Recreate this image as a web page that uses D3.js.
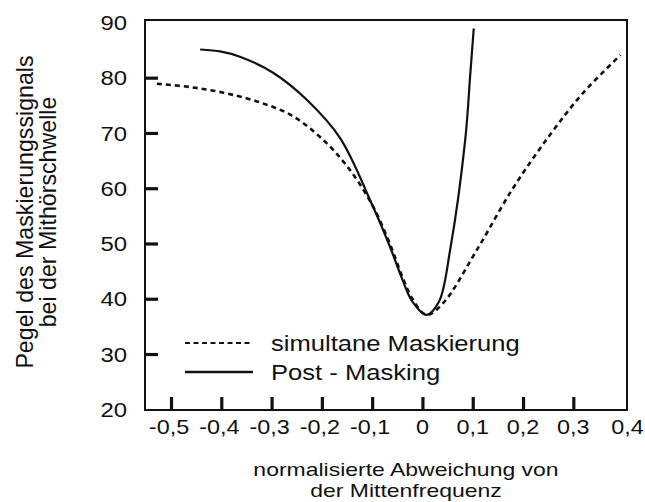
<!DOCTYPE html>
<html><head><meta charset="utf-8">
<script src="https://cdn.jsdelivr.net/npm/d3@7"></script>
<style>body{margin:0;background:#fff}svg{display:block}text{font-family:"Liberation Sans",Arial,sans-serif;fill:#111}</style>
</head><body><svg id="c" width="645" height="502"></svg>
<script>
// ---- data ----
const xTicks = [-0.5, -0.4, -0.3, -0.2, -0.1, 0, 0.1, 0.2, 0.3];
const xTickLabels = [-0.5, -0.4, -0.3, -0.2, -0.1, 0, 0.1, 0.2, 0.3, 0.4];
const yTicks = [30, 40, 50, 60, 70, 80];
const yTickLabels = [20, 30, 40, 50, 60, 70, 80, 90];
const simX = [-0.528, -0.462, -0.397, -0.329, -0.263, -0.204, -0.15, -0.1, -0.065, -0.04, -0.02, 0.008, 0.041, 0.108, 0.18, 0.254, 0.32, 0.394];
const simY = [78.9, 78.3, 77.3, 75.7, 73.3, 69.3, 64, 57, 50, 44, 40, 37.1, 39.2, 48.8, 60, 69.7, 77.3, 84.1];
const postX = [-0.442, -0.4, -0.363, -0.297, -0.23, -0.164, -0.1, -0.065, -0.04, -0.02, 0.008, 0.033, 0.055, 0.085, 0.095, 0.102];
const postY = [85.1, 84.7, 83.8, 80.9, 76, 69.1, 57, 49.5, 43.5, 39.5, 37.1, 39.5, 48.8, 68.7, 80.5, 88.9];
const legendLabels = ["simultane Maskierung", "Post - Masking"];

const svg = d3.select("#c");
const L = 145, R = 627, T = 20, B = 410;
const x = d3.scaleLinear().domain([-0.5, 0.4]).range([171, 623.6]);
const y = d3.scaleLinear().domain([20, 90]).range([409.3, 22.4]);
const fmt = d => String(d).replace(".", ",");

// frame
svg.append("rect").attr("x", L).attr("y", T).attr("width", R - L).attr("height", B - T)
  .attr("fill", "none").attr("stroke", "#111").attr("stroke-width", 2);

// x axis ticks (inward)
const xa = svg.append("g").attr("transform", `translate(0,${B})`)
  .call(d3.axisBottom(x).tickValues(xTicks).tickSize(-13).tickSizeOuter(0).tickFormat(""));
xa.select(".domain").remove();
xa.selectAll("line").attr("stroke", "#111").attr("stroke-width", 3.2);
svg.append("g").selectAll("text").data(xTickLabels).join("text")
  .attr("transform", d => `translate(${x(d) - (d < 0 ? 2 : 0) + (d === 0.4 ? 4 : 0)},434) scale(1.17,1)`)
  .attr("text-anchor", "middle").attr("font-size", 20).text(fmt);

// y axis ticks (inward)
const ya = svg.append("g").attr("transform", `translate(${L},0)`)
  .call(d3.axisLeft(y).tickValues(yTicks).tickSize(-13).tickSizeOuter(0).tickFormat(""));
ya.select(".domain").remove();
ya.selectAll("line").attr("stroke", "#111").attr("stroke-width", 3.2);
svg.append("g").selectAll("text").data(yTickLabels).join("text")
  .attr("transform", d => `translate(127,${y(d) + 7.6}) scale(1.14,1)`)
  .attr("text-anchor", "end").attr("font-size", 21).text(d => d);

// axis titles
const xt = svg.append("text").attr("text-anchor", "middle").attr("font-size", 19)
  .attr("transform", "translate(406,0) scale(1.21,1)");
xt.append("tspan").attr("x", 0).attr("y", 476).text("normalisierte Abweichung von");
xt.append("tspan").attr("x", 0).attr("y", 497.5).text("der Mittenfrequenz");
const yt = svg.append("text").attr("text-anchor", "middle").attr("font-size", 23.2)
  .attr("transform", "translate(0,212) rotate(-90)");
yt.append("tspan").attr("x", 0).attr("y", 33).text("Pegel des Maskierungssignals");
yt.append("tspan").attr("x", 0).attr("y", 56).text("bei der Mithörschwelle");

// curves
const line = d3.line().x(d => x(d[0])).y(d => y(d[1])).curve(d3.curveCatmullRom.alpha(0.5));
const simData = simX.map((v, i) => [v, simY[i]]);
const postData = postX.map((v, i) => [v, postY[i]]);
svg.append("path").datum(simData).attr("d", line).attr("fill", "none")
  .attr("stroke", "#111").attr("stroke-width", 2.6).attr("stroke-dasharray", "5,4");
svg.append("path").datum(postData).attr("d", line).attr("fill", "none")
  .attr("stroke", "#111").attr("stroke-width", 2.2);

// legend
const lg = svg.append("g");
lg.append("line").attr("x1", 185).attr("x2", 253).attr("y1", 343).attr("y2", 343)
  .attr("stroke", "#111").attr("stroke-width", 2.2).attr("stroke-dasharray", "5,3.5");
lg.append("line").attr("x1", 185).attr("x2", 253).attr("y1", 372).attr("y2", 372)
  .attr("stroke", "#111").attr("stroke-width", 2.4);
lg.selectAll("text").data(legendLabels).join("text")
  .attr("transform", (d, i) => `translate(271,${350.5 + i * 29}) scale(1.19,1)`)
  .attr("font-size", 21.5).text(d => d);
</script></body></html>
